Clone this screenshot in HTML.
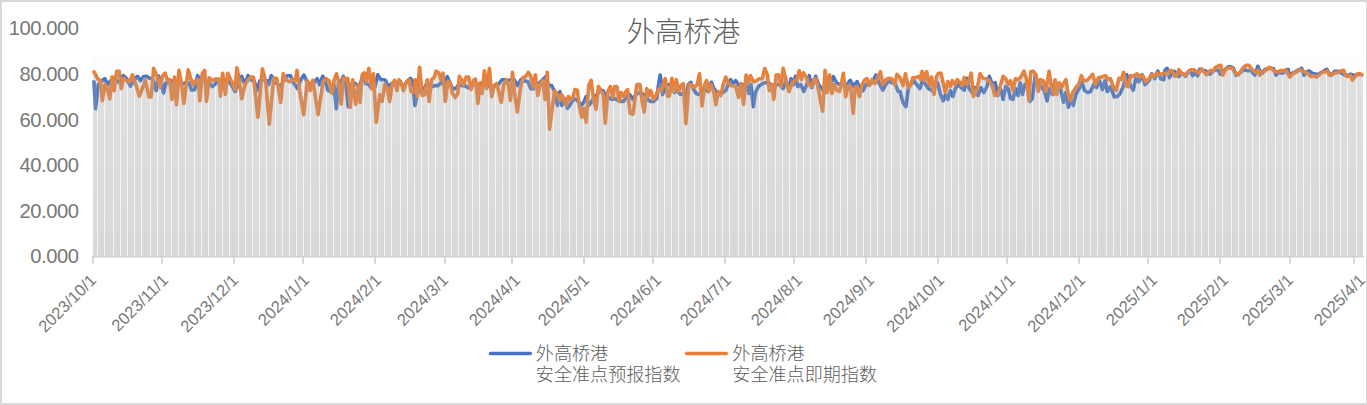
<!DOCTYPE html>
<html lang="zh"><head><meta charset="utf-8"><title>外高桥港</title>
<style>
html,body{margin:0;padding:0;background:#fff;}
body{width:1367px;height:405px;position:relative;overflow:hidden;font-family:"Liberation Sans",sans-serif;}
#frame{position:absolute;left:0;top:0;width:1364px;height:401px;border-style:solid;border-color:#d9d9d9;border-width:2px 1px 2px 2px;}
svg{position:absolute;left:0;top:0;}
.yl{position:absolute;right:1288.5px;width:90px;text-align:right;font-size:20.2px;line-height:20px;color:#787878;letter-spacing:-0.45px;white-space:nowrap;}
.xl{position:absolute;font-size:16.5px;line-height:18px;color:#787878;white-space:nowrap;transform-origin:100% 50%;transform:rotate(-45deg);text-align:right;width:100px;}
</style></head><body>
<div id="frame"></div>

<svg width="1367" height="405" viewBox="0 0 1367 405">
<defs><linearGradient id="gf" x1="0" y1="58" x2="0" y2="256" gradientUnits="userSpaceOnUse"><stop offset="0" stop-color="#a6a6a6" stop-opacity="0.256"/><stop offset="1" stop-color="#a6a6a6" stop-opacity="0.361"/></linearGradient>
<linearGradient id="gg" x1="0" y1="58" x2="0" y2="256" gradientUnits="userSpaceOnUse"><stop offset="0" stop-color="#a6a6a6" stop-opacity="0.1"/><stop offset="1" stop-color="#a6a6a6" stop-opacity="0.1"/></linearGradient></defs>
<rect x="92" y="57" width="1271" height="199.5" fill="#fdfdfd"/>
<polyline points="94,81.7 95.5,108.7 98.3,84.6 100.9,81.7 104.8,78.7 107.8,84.6 110.7,80.7 113.7,79.7 116.7,80.7 119.6,82.7 123.2,75.7 126.5,78.7 130.5,86.2 133.5,80.7 137.4,76.3 140.4,80.7 143.3,76.7 146.3,76.3 149.3,78.3 152.2,78.7 156.2,90.6 158.1,75.7 161.1,80.7 163.5,92.9 166,82.7 169,82.7 173,80.7 176.9,82.7 181.8,84.6 185.8,82.7 188.8,82.7 191.7,90.2 194.7,89.6 197.6,75.7 200.6,80.7 204.6,80.7 208.5,82.7 212.5,86.6 216.4,82.7 220.4,80.7 224.3,82.7 228.3,80.7 231.2,84.6 235.2,91.5 238.1,84.6 241.7,76.3 245,84.6 248,75.7 251,79.7 253.9,80.7 257.5,90.2 259.9,80.7 263.8,79.7 266.8,80.7 268.7,84.6 271.3,75.7 274.7,80.7 277.6,84.6 280.6,86.6 283.6,80.7 287.5,75.7 290.5,75.7 293.4,82.7 297.4,88.6 300.4,80.7 303.9,75.1 306.9,81.7 310.2,84.6 314.2,82.7 317.1,78.7 319.5,84.6 322.7,76.3 325,80.7 328,90.6 331,91.5 333.9,84.6 336.3,108.7 338.5,82.7 340.8,82.7 343.4,76.3 345.8,84.6 348.3,106.7 350.7,84.6 353.7,82.7 356.6,84.6 359.6,86.6 363,74.8 365.9,83.6 368.9,84.6 371.9,88.6 374.8,87.6 377.8,74.8 380.7,79.7 383.7,79.7 385.7,80.7 388.6,87.6 391.6,83.6 394.6,84.6 397.5,82.7 400.5,81.7 403.5,87.6 406.4,82.7 410.4,78.3 412.3,80.7 414.9,105.4 417.3,94.5 420.2,88.6 423.2,90.6 426.2,84.6 429.1,84.6 432.1,86.6 435.1,85.6 438,85.6 441,82.7 443.9,84.6 447.3,76.7 449.9,83.6 452.8,88.6 455.8,88.6 458.8,84.6 461.7,85.6 464.7,85.6 467.6,87.6 470.6,87.6 473.6,84.6 476.5,84.6 479.5,86.6 482.5,84.6 486.4,84.6 490.4,86.6 494.3,86.6 498.3,84.6 502.2,79.7 505.2,79.7 508.1,80.7 511.1,79.7 514.1,79.7 517.4,85.6 521,79.7 523.9,80.7 527.9,81.7 530.8,88.6 533.8,88.6 536.8,84.6 539.7,82.7 542.7,79.7 545.7,76.7 548.6,85.6 551.6,85.6 554.6,91.5 557.5,105.4 559.9,91.5 561.9,105.4 564.4,98.5 567.4,108.3 570.4,104.4 573.3,99.4 576.3,99.4 578.8,102.4 581.2,105.4 583.8,102.4 586.2,96.5 588.7,105.4 591.1,102.4 594.1,97.5 597,94.5 600,90.6 602.9,90.6 605.9,96.5 608.9,97.5 611.8,99.4 614.8,98.5 617.8,100.4 620.7,101.4 623.7,101.4 626.6,96.5 629.6,94.5 633,99.4 635.9,94.5 639.9,92.5 643.8,94.5 647.8,99.4 650.7,101.4 653.7,101.4 656.7,98.5 658.6,84.6 660.2,75.1 662.6,94.5 665.6,84.6 668.5,84.6 671.5,86.6 674.4,92.5 677.4,90.6 680.4,94.5 683.3,93.5 686.3,96.5 688.3,84.6 690.8,82.3 693.2,88.6 696.2,93.5 699.1,94.5 702.1,91.5 705.1,89.6 708,91.5 711.4,82.3 713.9,88.6 716.9,92.5 719.9,93.5 722.8,92.5 725.8,90.6 728.8,82.7 730.7,79.7 732.7,84.6 735.7,80.7 738.2,84.6 740.6,86.6 743.6,84.6 746.5,84.6 748.9,93.5 750.9,84.6 753.4,106.7 755.4,92.5 758.4,86.6 761.3,84.6 764.3,82.7 768.3,82.7 771.2,84.6 774.2,85.6 777.1,84.6 780.1,84.6 783.1,88.6 786,80.7 789,90.6 791,78.7 793.5,84.6 795.5,76.3 797.9,86.6 800.8,84.6 803.8,91.5 806.8,84.6 809.3,75.7 811.7,87.6 815.7,76.3 818.6,84.6 821.6,88.6 824.6,92.5 827.5,84.6 830.5,84.6 833.4,76.7 836.4,82.7 839.4,84.6 842.3,84.6 845.3,86.6 847.3,84.6 850.2,80.3 853.2,86.6 857.1,81.7 860.1,89.6 863.1,90.6 866,84.6 869,84.6 872,82.7 875.9,75.1 878.9,82.7 882.8,90.2 885.8,84.6 888.7,80.7 891.7,82.7 894.7,82.7 898.2,91.5 900,91.5 903,102.4 905.9,106.7 908.3,88.6 910.9,84.6 913.8,80.7 916.8,84.6 919.8,88.6 922.7,79.7 925.7,84.6 928.6,88.6 931.6,90.6 934.6,84.6 937.5,82.7 940.5,94.5 943.1,100.8 945.4,94.5 947.8,99.4 950.4,90.6 952.9,96.5 955.3,88.6 958.3,84.6 961.2,87.6 964.2,90.2 966.8,78.3 969.1,88.6 972.1,92.5 975.1,87.6 978,95.5 981,87.6 983.9,92.5 986.9,86.6 989.3,76.3 992.4,84.6 995.2,82.7 997.8,95.5 1000.7,89.6 1003.1,99.4 1005.7,86.6 1008.2,88.6 1010.6,98.5 1013,99.4 1015.5,88.6 1018.1,95.5 1020.1,82.7 1022.5,94.5 1024.8,84.6 1027.4,84.6 1030,101.4 1032.3,98.5 1035.3,74.8 1038.3,84.6 1041.2,86.6 1044.2,90.6 1047.1,100.8 1049.7,88.6 1052.5,94.5 1055,84.6 1058,84.6 1061,90.6 1063.5,102.4 1065.9,92.5 1068.3,107.3 1070.8,100.4 1073.4,105.4 1075.8,94.5 1078.7,89.6 1081.7,82.7 1084.7,90.6 1087.6,92.5 1090.6,91.5 1093.6,84.6 1096.5,87.6 1099.5,80.7 1102.5,89.6 1105,80.7 1107.4,91.5 1110.4,86.6 1114.3,96.9 1117.3,96.5 1120.2,93.5 1123.2,86.6 1126.7,74.8 1130.1,84.6 1133.1,90.2 1136,78.3 1139,81.7 1142,74.8 1144.9,84.6 1148.9,80.7 1151.8,73.8 1154.8,78.7 1157.8,71.2 1160.7,78.7 1163.7,79.7 1165,70.3 1167,68.3 1169.4,77.7 1171.9,73.2 1174.4,71.3 1176.7,74.2 1178.8,76.7 1181.3,73.2 1183.8,74.2 1185.7,76.2 1188.2,71.8 1190.5,71.8 1192.7,75.7 1195.1,72.2 1197.6,75.7 1199.6,69.3 1202.5,70.3 1205.5,70.8 1208,73.2 1209.9,74.2 1212.4,71.8 1214.9,69.8 1218.3,70.3 1220.3,74.2 1222.3,73.2 1224.3,70.3 1228.2,66.8 1230.7,66.8 1233.1,67.8 1236.1,75.2 1238.6,74.2 1241,71.8 1243.5,69.8 1246,70.3 1247.5,70.8 1250.9,70.3 1254.9,75.2 1257.8,66.3 1260.3,72.2 1262.3,73.2 1264.7,69.8 1267.7,68.8 1270.7,68.3 1273.6,68.8 1276.1,75.2 1278.6,72.2 1282.5,73.2 1285.5,71.3 1288,69.3 1289.4,75.2 1292.4,73.2 1295.4,71.8 1297.3,70.3 1298.8,70.3 1300.1,69.3 1301.6,68.3 1304.1,75.2 1306.6,72.2 1309,70.8 1312,73.2 1315.9,74.2 1318.4,74.2 1320.9,72.7 1323.8,71.3 1326.8,69.3 1329.3,73.7 1331.7,75.2 1334.7,71.3 1338.2,71.3 1341.6,73.2 1344.1,74.7 1347.1,75.7 1350.5,74.2 1354.5,75.7 1357.9,74.2 1361.7,74.7" fill="none" stroke="#4472c4" stroke-width="3.6" stroke-linejoin="round" stroke-linecap="round"/>
<polyline points="94,71.8 97.9,79.1 100.3,80.3 102.4,100.8 104.8,84.6 106.8,86.6 109.8,98.8 112.1,76.7 114.1,90.6 116.7,71.2 119.2,71.2 121.2,88.6 123.6,78.7 126.5,80.3 129.5,81.7 132.5,74.8 135.8,84.6 139.4,96.1 142.3,88.6 145.3,80.3 148.9,96.9 151.2,96.9 153.6,68.4 157.2,76.7 160.1,87.6 162.7,75.7 165.1,73.2 167.6,80.7 169.6,79.7 172,99.4 174.5,77.1 176.5,104.8 178.9,70.4 181.3,82.7 183.8,103.4 188.2,69.8 190.7,78.7 193.1,84.6 195.7,80.7 198.2,79.7 199.8,100.8 202.2,73.8 204.6,70.4 206.5,101.4 209.1,77.7 212.1,80.7 215.4,79.1 219,79.1 220.4,96.1 222.7,73.2 225.3,94.5 227.7,73.2 230.2,78.7 232.6,83.6 235.2,89.6 236.8,67.8 239.1,78.7 241.7,98.8 245,84.6 248,79.7 251,77.1 253.5,77.1 257.9,117.2 262.4,68.8 265.8,82.7 269.3,124.1 273.7,78.3 276.6,78.3 280.8,102.4 283.2,73.8 285.9,79.7 289.5,81.7 292.5,79.7 295.4,80.3 297,70.4 299.4,89.6 303.7,114.6 307.3,80.7 310.2,90.6 312.8,80.3 318.1,114.6 323.1,81.7 326,78.7 329,80.7 332,93.5 334.3,79.7 336.5,73.8 338.9,82.7 341.2,104 343.4,77.7 345.8,79.7 347.8,78.3 350.3,107.3 352.7,79.7 355.7,104.4 358.6,84.6 360,102.4 362.4,74.8 364.3,72.8 366.3,81.7 368.9,68.4 371.5,88.6 373.4,73.8 376.2,122.2 379.8,94.5 382.1,101.4 384.7,84.6 387.1,87.6 389.6,101.4 392.2,84.6 394.6,80.3 396.9,90.6 398.9,79.7 401.5,84.6 403.5,90.6 406.4,81.7 409,79.7 411,91.5 413.3,92.5 415.3,79.7 417.3,96.5 419.6,67.2 422.2,95.5 424.8,94.5 427.2,79.7 429.1,101.4 431.5,79.7 434.1,77.7 436,71.2 438.6,72.8 441,79.7 443,73.2 445.3,101.4 447.9,81.7 450.3,82.7 452.4,93.5 455.2,97.5 457.8,93.5 459.3,76.3 461.7,79.7 463.7,84.6 466.1,77.1 468.6,77.1 471,89.6 473.6,80.3 475.5,79.1 477.9,103.4 480.1,82.7 482.1,93.5 484.4,70.8 486.8,88.6 489.4,68.4 491.7,96.5 494.3,85.6 496.7,83.6 498.7,91.5 501.2,102.4 503.8,84.6 506.2,79.7 508.5,85.6 510.5,100.4 512.5,72.4 515,96.5 517.4,111.9 520.4,88.6 522.9,77.7 525.5,76.7 528.3,72.4 530.8,76.7 533.4,87.6 535.4,74.8 537.8,95.5 540.1,84.6 542.7,80.7 545.1,99.4 547.2,72.4 549.6,129.1 552.6,105.4 554.6,90.6 557.5,94.5 559.9,100.4 561.5,94.5 564.4,99.4 566.4,105.4 568.4,96.5 570.4,99.4 572.9,97.5 574.9,89.6 577.3,90.2 579.2,105.4 581.8,117.2 583.8,108.3 586.2,122.2 588.7,85.6 591.1,80.3 593.5,99.4 596,109.3 598.4,86.6 601,90.6 603.3,94.5 605.3,123.1 607.9,91.5 610.4,86.6 612.8,97.5 614.8,86.6 616.8,86.6 619.1,101.4 621.1,92.5 623.7,96.5 626,91.5 627.6,89.6 630,113.3 633,114.3 636.9,84.6 639.9,84.6 642.2,101.4 644.2,111.9 646.8,88.6 648.8,95.5 650.7,90.6 653.3,99.4 655.7,96.5 658.6,89 661.2,90.6 663.2,84.6 665.2,78.7 667.5,96.1 669.5,96.1 671.9,78.3 673.8,91.5 676.4,79.7 678.4,91.5 681,85.6 683.3,83.6 685.9,123.7 688.9,84.6 691.6,84.6 694.2,87.6 697.2,84.6 699.5,73.8 702.1,106 704.7,84.6 706.6,80.7 709,91.5 711,84.6 713.4,90.6 715.9,104.8 718.3,91.5 720.9,95.5 723.2,84.6 725.8,77.1 728.2,82.7 730.7,85.6 733.1,85.6 735.7,86.6 738.6,97.5 741,83.6 743.6,104.4 746.1,75.1 748.5,82.7 750.5,75.7 753.4,81.7 756.4,80.7 759.4,78.7 762.3,78.7 764.7,68.4 767.3,74.8 769.2,90.6 771.8,84.6 773.8,99.4 776.2,75.1 778.5,74.8 781.1,86.6 783.1,68.4 786,79.7 789,91.5 791.6,84.6 794.3,80.7 796.9,79.7 799.3,70.8 801.4,79.7 803.4,72.8 806.2,76.7 808.7,84.6 811.3,86.6 813.7,79.7 816.1,78.7 818.6,90.6 822.6,111.3 825.1,70.4 827.5,92.5 829.5,74.8 831.9,93.5 834.4,84.6 837,90.6 839.4,91.5 841.3,84.6 843.3,73.2 845.7,96.9 848.3,85.6 850.6,86.6 853.2,113.3 855.2,87.6 857.1,86.6 859.5,96.5 862.1,84.6 865,79.7 867,78.7 869.4,85.6 872,79.7 874.9,83.6 877.9,78.7 880.4,71.8 882.8,84.6 885.8,79.7 888.7,78.3 891.7,78.7 894.7,84.6 897,74.4 900,77.7 903,85.6 905.5,73.8 908.3,87.6 910.9,84.6 912.8,77.7 915.8,77.7 918.8,76.3 920.7,79.7 922.1,71.2 924.7,80.7 926.7,71.8 929.6,85.6 931.6,77.1 934,94.5 936.5,76.7 938.5,73.2 940.9,73.2 943.5,84.6 945.4,92.5 947.8,81.7 950.4,86.6 952.3,80.7 954.9,84.6 957.3,79.7 960.2,82.7 962.2,85.6 964.2,77.7 966.8,84.6 969.1,80.7 971.1,73.2 973.5,96.5 976,91.5 978,84.6 980,73.8 983,78.3 985.9,78.7 988.9,80.7 991.8,84.6 994.8,95.5 997.8,94.5 1000.7,84.6 1003.1,76.3 1005.7,78.7 1008.2,84.6 1010.6,80.7 1013,90.6 1015.5,78.7 1018.1,79.7 1020.9,77.1 1024,71.2 1026.4,78.7 1028.8,100.4 1030.8,71.8 1033.3,71.2 1035.9,74.8 1038.3,91.5 1040.6,79.7 1043.2,80.7 1045.8,91.5 1049.1,71.2 1051.1,84.6 1053.7,94.5 1055,79.7 1057,94.5 1059,82.7 1061.6,87.6 1063.5,83.6 1065.9,79.7 1067.9,92.5 1070.3,100.4 1072.8,92.5 1075.8,87.6 1078.7,84.6 1081.3,75.7 1083.7,80.7 1086.6,80.7 1089.2,78.3 1092.6,74.4 1095.5,84.6 1098.5,77.7 1101.5,77.1 1105.4,75.7 1108.4,79.7 1110.4,78.7 1113.3,86.6 1116.3,90.6 1118.8,78.3 1121.2,79.7 1123.6,72.4 1126.2,85.6 1128.1,86.6 1130.7,75.7 1133.1,76.3 1137,73.8 1140,77.1 1142.9,75.7 1145.9,81.7 1148.9,78.7 1151.8,74.4 1153.8,76.7 1156.8,73.2 1159.7,74.8 1162.7,73.8 1165,73.2 1167.5,74.2 1169.4,71.3 1171.4,70.3 1173.4,73.7 1174.9,76.2 1176.9,75.7 1178.8,69.8 1180.8,72.2 1182.8,74.2 1184.8,75.7 1187.2,73.2 1189.7,70.3 1191.7,69.8 1194.1,69.8 1196.6,71.8 1199.1,73.2 1201.5,68.8 1204,71.8 1206.5,74.7 1208.9,71.8 1210.9,70.3 1213.4,71.3 1215.4,67.3 1217.8,66.3 1220.8,65.3 1222.8,75.2 1224.7,71.3 1226.7,68.3 1229.2,67.8 1232.2,68.3 1234.1,71.3 1236.1,73.7 1238.6,74.7 1241,70.8 1243.5,67.3 1246,65.3 1248.9,65.3 1251.4,68.8 1253.9,71.3 1256.3,72.2 1258.3,70.3 1259.8,75.2 1262.3,71.3 1264.7,71.3 1267.2,68.8 1269.2,67.3 1271.7,68.8 1274.1,70.8 1276.6,72.2 1279.1,71.3 1281,70.3 1283.5,71.3 1285.5,69.8 1288,73.7 1289.9,77.2 1292.4,74.2 1294.4,72.7 1296.8,71.8 1298.8,70.3 1300.1,69.6 1302.1,70.8 1304.6,71.8 1307.1,73.2 1309.5,75.2 1311.5,76.7 1314,75.7 1316.4,77.2 1318.9,75.2 1320.9,73.2 1323.3,72.2 1325.8,71.8 1327.3,70.8 1329.3,75.2 1331.7,74.7 1334.2,73.2 1336.7,72.7 1339.2,71.8 1341.1,70.8 1343.6,70.3 1345.6,75.2 1347.5,76.7 1350,75.2 1352.5,80.1 1355,76.7 1356.9,74.2 1359.4,73.7 1361.7,74.7" fill="none" stroke="#ed7d31" stroke-width="3.6" stroke-linejoin="round" stroke-linecap="round"/>
<path d="M93.4,256.5 L94,71.8 95.5,74.7 97.9,79.1 98.3,79.3 100.3,80.3 100.9,81.7 102.4,80.5 104.8,78.7 106.8,82.7 107.8,84.6 109.8,82 110.7,80.7 112.1,76.7 113.7,79.7 114.1,79.8 116.7,71.2 119.2,71.2 119.6,74.7 121.2,79.6 123.2,75.7 123.6,76.1 126.5,78.7 129.5,81.7 130.5,79.4 132.5,74.8 133.5,77.7 135.8,78.1 137.4,76.3 139.4,79.2 140.4,80.7 142.3,78 143.3,76.7 145.3,76.5 146.3,76.3 148.9,78 149.3,78.3 151.2,78.6 152.2,78.7 153.6,68.4 156.2,74.4 157.2,76.7 158.1,75.7 160.1,79 161.1,80.7 162.7,75.7 163.5,74.9 165.1,73.2 166,76.1 167.6,80.7 169,80 169.6,79.7 172,81.2 173,80.7 174.5,77.1 176.5,82.5 176.9,82.7 178.9,70.4 181.3,82.7 181.8,84.6 183.8,83.6 185.8,82.7 188.2,69.8 188.8,71.9 190.7,78.7 191.7,81.2 193.1,84.6 194.7,82.2 195.7,80.7 197.6,75.7 198.2,76.7 199.8,79.4 200.6,80.7 202.2,73.8 204.6,70.4 206.5,81.7 208.5,82.7 209.1,77.7 212.1,80.7 212.5,80.5 215.4,79.1 216.4,79.1 219,79.1 220.4,80.7 222.7,73.2 224.3,82.7 225.3,82.2 227.7,73.2 228.3,74.4 230.2,78.7 231.2,80.8 232.6,83.6 235.2,89.6 236.8,67.8 238.1,74.2 239.1,78.7 241.7,76.3 245,84.6 248,75.7 251,77.1 253.5,77.1 253.9,80.7 257.5,90.2 257.9,88.6 259.9,80.7 262.4,68.8 263.8,74.5 265.8,80.3 266.8,80.7 268.7,84.6 269.3,82.6 271.3,75.7 273.7,78.3 274.7,78.3 276.6,78.3 277.6,84 280.6,86.6 280.8,86.2 283.2,73.8 283.6,74.6 285.9,77.7 287.5,75.7 289.5,75.7 290.5,75.7 292.5,79.7 293.4,79.9 295.4,80.3 297,70.4 297.4,73.6 299.4,83.3 300.4,80.7 303.7,75.5 303.9,75.1 306.9,81.7 307.3,80.7 310.2,84.6 312.8,80.3 314.2,82.7 317.1,78.7 318.1,81.2 319.5,84.6 322.7,76.3 323.1,77.1 325,79.7 326,78.7 328,80 329,80.7 331,89.2 332,89.2 333.9,82 334.3,79.7 336.3,74.3 336.5,73.8 338.5,81.2 338.9,82.7 340.8,82.7 341.2,81.7 343.4,76.3 345.8,79.7 347.8,78.3 348.3,85 350.3,88.3 350.7,84.6 352.7,79.7 353.7,82.7 355.7,84 356.6,84.6 358.6,84.6 359.6,86.6 360,85.2 362.4,74.8 363,74.2 364.3,72.8 365.9,79.9 366.3,81.7 368.9,68.4 371.5,88.1 371.9,85.6 373.4,73.8 374.8,87.6 376.2,81.6 377.8,74.8 379.8,78 380.7,79.7 382.1,79.7 383.7,79.7 384.7,80.2 385.7,80.7 387.1,83.9 388.6,87.6 389.6,86.3 391.6,83.6 392.2,83.8 394.6,80.3 396.9,83 397.5,82.7 398.9,79.7 400.5,81.7 401.5,83.6 403.5,87.6 406.4,81.7 409,79.7 410.4,78.3 411,79 412.3,80.7 413.3,90.2 414.9,82.3 415.3,79.7 417.3,94.5 419.6,67.2 420.2,73.8 422.2,89.9 423.2,90.6 424.8,87.4 426.2,84.6 427.2,79.7 429.1,84.6 431.5,79.7 432.1,79.2 434.1,77.7 435.1,74.5 436,71.2 438,72.4 438.6,72.8 441,79.7 443,73.2 443.9,84.6 445.3,81.4 447.3,76.7 447.9,78.3 449.9,82.5 450.3,82.7 452.4,87.9 452.8,88.6 455.2,88.6 455.8,88.6 457.8,85.9 458.8,82.8 459.3,76.3 461.7,79.7 463.7,84.6 464.7,81.5 466.1,77.1 467.6,77.1 468.6,77.1 470.6,87.5 471,87.2 473.6,80.3 475.5,79.1 476.5,84.6 477.9,85.5 479.5,86.6 480.1,82.7 482.1,84.9 482.5,84.6 484.4,70.8 486.4,84.6 486.8,84.8 489.4,68.4 490.4,80.1 491.7,86.6 494.3,85.6 496.7,83.6 498.3,84.6 498.7,84.1 501.2,80.9 502.2,79.7 503.8,79.7 505.2,79.7 506.2,79.7 508.1,80.7 508.5,80.5 510.5,79.9 511.1,79.7 512.5,72.4 514.1,79.7 515,81.4 517.4,85.6 520.4,80.7 521,79.7 522.9,77.7 523.9,77.3 525.5,76.7 527.9,73 528.3,72.4 530.8,76.7 533.4,87.6 533.8,85 535.4,74.8 536.8,84.6 537.8,84 539.7,82.7 540.1,82.3 542.7,79.7 545.1,77.3 545.7,76.7 547.2,72.4 548.6,85.6 549.6,85.6 551.6,85.6 552.6,87.6 554.6,90.6 557.5,94.5 559.9,91.5 561.5,94.5 561.9,95.2 564.4,98.5 566.4,105 567.4,100.9 568.4,96.5 570.4,99.4 572.9,97.5 573.3,95.9 574.9,89.6 576.3,89.9 577.3,90.2 578.8,102.3 579.2,102.9 581.2,105.4 581.8,104.7 583.8,102.4 586.2,96.5 588.7,85.6 591.1,80.3 593.5,98.5 594.1,97.5 596,95.5 597,94.5 598.4,86.6 600,89 601,90.6 602.9,90.6 603.3,91.3 605.3,95.3 605.9,96.5 607.9,91.5 608.9,89.6 610.4,86.6 611.8,92.9 612.8,97.5 614.8,86.6 616.8,86.6 617.8,92.8 619.1,100.9 620.7,94.3 621.1,92.5 623.7,96.5 626,91.5 626.6,90.8 627.6,89.6 629.6,94.5 630,95.1 633,99.4 635.9,92 636.9,84.6 639.9,84.6 642.2,93.7 643.8,94.5 644.2,95 646.8,88.6 647.8,92 648.8,95.5 650.7,90.6 653.3,99.4 653.7,98.9 655.7,96.5 656.7,94 658.6,84.6 660.2,75.1 661.2,83.2 662.6,86.4 663.2,84.6 665.2,78.7 665.6,81.6 667.5,84.6 668.5,84.6 669.5,85.3 671.5,81.3 671.9,78.3 673.8,91.3 674.4,88.8 676.4,79.7 677.4,85.6 678.4,91.5 680.4,87 681,85.6 683.3,83.6 685.9,96.1 686.3,96.5 688.3,84.6 688.9,84.1 690.8,82.3 691.6,84.4 693.2,86.5 694.2,87.6 696.2,85.6 697.2,84.6 699.1,75.6 699.5,73.8 702.1,91.5 704.7,84.6 705.1,83.8 706.6,80.7 708,87 709,88.8 711,83.3 711.4,82.3 713.4,87.1 713.9,88.6 715.9,91.2 716.9,92.5 718.3,91.5 719.9,93.5 720.9,93.2 722.8,86.4 723.2,84.6 725.8,77.1 728.2,82.7 728.8,82.7 730.7,79.7 732.7,84.6 733.1,84.1 735.7,80.7 738.2,84.6 738.6,85 740.6,85.9 741,83.6 743.6,84.6 746.1,75.1 746.5,76.4 748.5,82.7 748.9,81.3 750.5,75.7 750.9,76.5 753.4,81.7 755.4,81 756.4,80.7 758.4,79.4 759.4,78.7 761.3,78.7 762.3,78.7 764.3,70.1 764.7,68.4 767.3,74.8 768.3,82.7 769.2,83.3 771.2,84.6 771.8,84.6 773.8,85.5 774.2,85.6 776.2,75.1 777.1,75 778.5,74.8 780.1,82 781.1,85.9 783.1,68.4 786,79.7 789,90.6 791,78.7 791.6,80.1 793.5,81.8 794.3,80.7 795.5,76.3 796.9,79.7 797.9,76 799.3,70.8 800.8,77.3 801.4,79.7 803.4,72.8 803.8,73.3 806.2,76.7 806.8,78.5 808.7,77.8 809.3,75.7 811.3,85.6 811.7,85.4 813.7,79.7 815.7,76.3 816.1,77.4 818.6,84.6 821.6,88.6 822.6,89.9 824.6,79.8 825.1,70.4 827.5,84.6 829.5,74.8 830.5,82.6 831.9,80.9 833.4,76.7 834.4,78.7 836.4,82.7 837,83 839.4,84.6 841.3,84.6 842.3,78.9 843.3,73.2 845.3,86.6 845.7,86.2 847.3,84.6 848.3,83.2 850.2,80.3 850.6,81.1 853.2,86.6 855.2,84.1 857.1,81.7 859.5,88 860.1,89.6 862.1,84.6 863.1,83 865,79.7 866,79.2 867,78.7 869,84.5 869.4,84.4 872,79.7 874.9,77 875.9,75.1 877.9,78.7 878.9,76 880.4,71.8 882.8,84.6 885.8,79.7 888.7,78.3 891.7,78.7 894.7,82.7 897,74.4 898.2,75.7 900,77.7 903,85.6 905.5,73.8 905.9,75.7 908.3,87.6 910.9,84.6 912.8,77.7 913.8,77.7 915.8,77.7 916.8,77.3 918.8,76.3 919.8,78 920.7,79.7 922.1,71.2 922.7,73.4 924.7,80.7 925.7,76.2 926.7,71.8 928.6,81 929.6,85.6 931.6,77.1 934,85.8 934.6,84.6 936.5,76.7 937.5,74.9 938.5,73.2 940.5,73.2 940.9,73.2 943.1,82.9 943.5,84.6 945.4,92.5 947.8,81.7 950.4,86.6 952.3,80.7 952.9,81.6 954.9,84.6 955.3,83.8 957.3,79.7 958.3,80.7 960.2,82.7 961.2,84.1 962.2,85.6 964.2,77.7 966.8,78.3 969.1,80.7 971.1,73.2 972.1,82.9 973.5,90.2 975.1,87.6 976,90.2 978,84.6 980,73.8 981,75.3 983,78.3 983.9,78.4 985.9,78.7 986.9,79.4 988.9,78 989.3,76.3 991.8,83.1 992.4,84.6 994.8,82.9 995.2,82.7 997.8,94.5 1000.7,84.6 1003.1,76.3 1005.7,78.7 1008.2,84.6 1010.6,80.7 1013,90.6 1015.5,78.7 1018.1,79.7 1020.1,77.9 1020.9,77.1 1022.5,74.2 1024,71.2 1024.8,73.7 1026.4,78.7 1027.4,84.6 1028.8,93.7 1030,83.2 1030.8,71.8 1032.3,71.4 1033.3,71.2 1035.3,73.9 1035.9,74.8 1038.3,84.6 1040.6,79.7 1041.2,79.9 1043.2,80.7 1044.2,84.9 1045.8,91.5 1047.1,83.2 1049.1,71.2 1049.7,75.2 1051.1,84.6 1052.5,89.9 1053.7,89.9 1055,79.7 1057,84.6 1058,84.6 1059,82.7 1061,86.5 1061.6,87.6 1063.5,83.6 1065.9,79.7 1067.9,92.5 1068.3,93.8 1070.3,100.4 1070.8,98.6 1072.8,92.5 1073.4,91.5 1075.8,87.6 1078.7,84.6 1081.3,75.7 1081.7,76.6 1083.7,80.7 1084.7,80.7 1086.6,80.7 1087.6,79.8 1089.2,78.3 1090.6,76.7 1092.6,74.4 1093.6,77.8 1095.5,84.6 1096.5,82.3 1098.5,77.7 1099.5,77.5 1101.5,77.1 1102.5,76.8 1105,75.9 1105.4,75.7 1107.4,78.4 1108.4,79.7 1110.4,78.7 1113.3,86.6 1114.3,87.9 1116.3,90.6 1117.3,85.8 1118.8,78.3 1120.2,79.1 1121.2,79.7 1123.2,73.6 1123.6,72.4 1126.2,76.7 1126.7,74.8 1128.1,78.8 1130.1,78.2 1130.7,75.7 1133.1,76.3 1136,74.4 1137,73.8 1139,76 1140,77.1 1142,74.8 1142.9,75.7 1144.9,79.7 1145.9,81.7 1148.9,78.7 1151.8,73.8 1153.8,76.7 1154.8,75.5 1156.8,73.2 1157.8,71.2 1159.7,74.8 1160.7,74.4 1162.7,73.8 1163.7,73.5 1165,70.3 1167,68.3 1167.5,70.2 1169.4,71.3 1171.4,70.3 1171.9,71.1 1173.4,72 1174.4,71.3 1174.9,71.9 1176.7,74.2 1176.9,74.4 1178.8,69.8 1180.8,72.2 1181.3,72.7 1182.8,73.8 1183.8,74.2 1184.8,75.2 1185.7,74.7 1187.2,73.2 1188.2,71.8 1189.7,70.3 1190.5,70.1 1191.7,69.8 1192.7,69.8 1194.1,69.8 1195.1,70.6 1196.6,71.8 1197.6,72.3 1199.1,70.9 1199.6,69.3 1201.5,68.8 1202.5,70 1204,70.5 1205.5,70.8 1206.5,71.8 1208,72.9 1208.9,71.8 1209.9,71 1210.9,70.3 1212.4,70.9 1213.4,71 1214.9,68.3 1215.4,67.3 1217.8,66.3 1218.3,66.2 1220.3,65.5 1220.8,65.3 1222.3,72.7 1222.8,72.5 1224.3,70.3 1224.7,69.8 1226.7,68.1 1228.2,66.8 1229.2,66.8 1230.7,66.8 1232.2,67.4 1233.1,67.8 1234.1,70.3 1236.1,73.7 1238.6,74.2 1241,70.8 1243.5,67.3 1246,65.3 1247.5,65.3 1248.9,65.3 1250.9,68.1 1251.4,68.8 1253.9,71.3 1254.9,71.7 1256.3,70.8 1257.8,66.3 1258.3,67.5 1259.8,71.1 1260.3,72.2 1262.3,71.3 1264.7,69.8 1267.2,68.8 1267.7,68.4 1269.2,67.3 1270.7,68.2 1271.7,68.5 1273.6,68.8 1274.1,70.1 1276.1,71.9 1276.6,72.2 1278.6,71.5 1279.1,71.3 1281,70.3 1282.5,70.9 1283.5,71.3 1285.5,69.8 1288,69.3 1289.4,75.2 1289.9,74.9 1292.4,73.2 1294.4,72.2 1295.4,71.8 1296.8,70.6 1297.3,70.3 1298.8,70.3 1300.1,69.3 1301.6,68.3 1302.1,69.7 1304.1,71.6 1304.6,71.8 1306.6,72.2 1307.1,71.9 1309,70.8 1309.5,71.2 1311.5,72.8 1312,73.2 1314,73.7 1315.9,74.2 1316.4,74.2 1318.4,74.2 1318.9,73.9 1320.9,72.7 1323.3,71.5 1323.8,71.3 1325.8,69.9 1326.8,69.3 1327.3,70.2 1329.3,73.7 1331.7,74.7 1334.2,71.9 1334.7,71.3 1336.7,71.3 1338.2,71.3 1339.2,71.8 1341.1,70.8 1341.6,70.7 1343.6,70.3 1344.1,71.5 1345.6,75.2 1347.1,75.7 1347.5,75.5 1350,74.4 1350.5,74.2 1352.5,75 1354.5,75.7 1355,75.5 1356.9,74.2 1357.9,74 1359.4,73.7 1361.7,74.7 L1363.4,256.5 Z" fill="url(#gg)"/>
<path d="M94,71.8V256.5M96,75.5V256.5M99,79.6V256.5M101,81.6V256.5M103,80.1V256.5M106,81.1V256.5M108,84.3V256.5M110,81.7V256.5M112,77.9V256.5M115,80.1V256.5M117,71.2V256.5M119,71.2V256.5M122,78V256.5M124,76.5V256.5M126,78.2V256.5M129,81.4V256.5M131,78.2V256.5M133,76.3V256.5M136,77.9V256.5M138,77.2V256.5M140,80.1V256.5M143,77.2V256.5M145,76.5V256.5M147,76.8V256.5M149,78.1V256.5M152,78.7V256.5M154,69.4V256.5M156,74V256.5M159,77.2V256.5M161,80.5V256.5M163,75.4V256.5M166,75.9V256.5M168,80.5V256.5M170,82.2V256.5M173,80.7V256.5M175,81.7V256.5M177,82.7V256.5M180,76.2V256.5M182,84.5V256.5M184,83.5V256.5M187,78.8V256.5M189,72.7V256.5M191,79.4V256.5M193,84.4V256.5M196,80.5V256.5M198,76.3V256.5M200,79.7V256.5M203,72.6V256.5M205,77.4V256.5M207,81.9V256.5M210,78.6V256.5M212,80.6V256.5M214,79.8V256.5M217,79.1V256.5M219,79.4V256.5M221,81V256.5M224,82.5V256.5M226,81.8V256.5M228,73.9V256.5M231,80.3V256.5M233,84.6V256.5M235,89.2V256.5M237,69V256.5M240,80.3V256.5M242,77.1V256.5M244,82V256.5M247,78.8V256.5M249,77.1V256.5M251,77.1V256.5M254,80.8V256.5M256,86.2V256.5M258,88.1V256.5M261,80.4V256.5M263,71.2V256.5M265,79.4V256.5M268,83.1V256.5M270,80.3V256.5M272,76.7V256.5M274,78.3V256.5M277,80.3V256.5M279,85.5V256.5M281,85.8V256.5M284,75.5V256.5M286,77.6V256.5M288,75.7V256.5M291,77V256.5M293,79.8V256.5M295,80.2V256.5M298,78.5V256.5M300,81.6V256.5M302,78.1V256.5M305,77.6V256.5M307,81.8V256.5M309,83.5V256.5M312,83.5V256.5M314,82.7V256.5M316,80.2V256.5M318,80.9V256.5M321,80.7V256.5M323,76.9V256.5M325,79.7V256.5M328,80V256.5M330,85.1V256.5M332,89.1V256.5M335,77.8V256.5M337,75.7V256.5M339,82.7V256.5M342,79.8V256.5M344,78.2V256.5M346,79.5V256.5M349,92.4V256.5M351,84.4V256.5M353,82.3V256.5M356,84.2V256.5M358,85.5V256.5M360,85.2V256.5M362,78.1V256.5M365,75.7V256.5M367,78.2V256.5M369,69.3V256.5M372,84.5V256.5M374,83.7V256.5M376,82.4V256.5M379,76.8V256.5M381,79.7V256.5M383,79.7V256.5M386,81.4V256.5M388,86.1V256.5M390,85.8V256.5M393,83.2V256.5M395,82.2V256.5M397,83V256.5M399,79.9V256.5M402,84.7V256.5M404,86.7V256.5M406,82.9V256.5M409,79.8V256.5M411,79.1V256.5M413,87V256.5M416,85.6V256.5M418,87.6V256.5M420,71.1V256.5M423,90.4V256.5M425,87V256.5M427,80.7V256.5M430,85.2V256.5M432,79.3V256.5M434,77.8V256.5M437,71.8V256.5M439,73.9V256.5M441,79.6V256.5M443,73.7V256.5M446,79.8V256.5M448,78.6V256.5M450,82.5V256.5M453,88.6V256.5M455,88.6V256.5M457,87V256.5M460,77.3V256.5M462,80.4V256.5M464,83.7V256.5M467,77.1V256.5M469,79.1V256.5M471,87.2V256.5M474,80V256.5M476,83.8V256.5M478,85.6V256.5M481,85.6V256.5M483,84.5V256.5M485,75.1V256.5M487,84.9V256.5M490,75.9V256.5M492,86.6V256.5M494,86.6V256.5M497,84.9V256.5M499,83.7V256.5M501,81.2V256.5M504,79.7V256.5M506,80V256.5M508,80.6V256.5M511,79.7V256.5M513,77.3V256.5M515,81.3V256.5M518,84.6V256.5M520,81.3V256.5M522,80V256.5M524,77.3V256.5M527,74.4V256.5M529,73.6V256.5M531,77.4V256.5M534,83.8V256.5M536,80.1V256.5M538,83.8V256.5M541,81.4V256.5M543,79.4V256.5M545,77.4V256.5M548,83.7V256.5M550,85.6V256.5M552,86.4V256.5M555,91.2V256.5M557,93.8V256.5M559,96.7V256.5M562,95.4V256.5M564,98.7V256.5M566,103.7V256.5M568,98.2V256.5M571,98.9V256.5M573,97.1V256.5M575,89.6V256.5M578,95.8V256.5M580,103.8V256.5M582,104.5V256.5M585,99.4V256.5M587,99.4V256.5M589,85V256.5M592,87.6V256.5M594,97.6V256.5M596,95.5V256.5M599,87.5V256.5M601,90.6V256.5M603,90.7V256.5M606,96.5V256.5M608,91.3V256.5M610,87.5V256.5M612,93.7V256.5M615,86.6V256.5M617,88.1V256.5M619,100.6V256.5M622,93.9V256.5M624,95.8V256.5M626,91.6V256.5M629,94.9V256.5M631,96.6V256.5M633,99.4V256.5M636,91.5V256.5M638,84.6V256.5M640,85.5V256.5M643,94.1V256.5M645,96V256.5M647,89.3V256.5M649,94.9V256.5M652,94.9V256.5M654,98.6V256.5M656,95.7V256.5M659,82.5V256.5M661,81.5V256.5M663,85.2V256.5M666,84.6V256.5M668,84.6V256.5M670,85.6V256.5M673,85.9V256.5M675,86.2V256.5M677,83.2V256.5M680,87.8V256.5M682,84.7V256.5M684,94.1V256.5M687,92.2V256.5M689,83.9V256.5M691,82.7V256.5M693,86.2V256.5M696,85.8V256.5M698,80.8V256.5M700,79.7V256.5M703,90.9V256.5M705,83.9V256.5M707,82.3V256.5M710,86.1V256.5M712,83.8V256.5M714,88.7V256.5M717,92.6V256.5M719,92.6V256.5M721,93.1V256.5M724,82.4V256.5M726,77.6V256.5M728,82.3V256.5M731,80.4V256.5M733,84.2V256.5M735,81.6V256.5M737,82.7V256.5M740,86.1V256.5M742,85.7V256.5M744,84.6V256.5M747,77.9V256.5M749,80.9V256.5M751,76.8V256.5M754,81.5V256.5M756,80.8V256.5M758,79.6V256.5M761,78.7V256.5M763,75.8V256.5M765,69.2V256.5M768,80.6V256.5M770,83.8V256.5M772,84.9V256.5M774,85.6V256.5M777,75V256.5M779,76.9V256.5M781,85.8V256.5M784,72V256.5M786,79.6V256.5M788,87.2V256.5M791,78.8V256.5M793,82.6V256.5M795,78.5V256.5M798,75.6V256.5M800,73.8V256.5M802,77.7V256.5M805,75V256.5M807,79.2V256.5M809,76.9V256.5M812,84.6V256.5M814,79.6V256.5M816,77.3V256.5M818,82.9V256.5M821,87.8V256.5M823,90.5V256.5M825,72.7V256.5M828,84.6V256.5M830,78.8V256.5M832,80.6V256.5M835,79.9V256.5M837,83.1V256.5M839,84.4V256.5M842,80.8V256.5M844,80V256.5M846,85.9V256.5M849,82.1V256.5M851,81.9V256.5M853,86.2V256.5M855,84.3V256.5M858,84V256.5M860,89.3V256.5M862,85V256.5M865,79.8V256.5M867,78.7V256.5M869,84.5V256.5M872,79.8V256.5M874,78.8V256.5M876,75.4V256.5M879,75.7V256.5M881,74.8V256.5M883,84.3V256.5M886,79.6V256.5M888,78.7V256.5M890,78.5V256.5M893,81.3V256.5M895,83.2V256.5M897,74.5V256.5M899,76.6V256.5M902,83V256.5M904,80.8V256.5M906,76.1V256.5M909,86.8V256.5M911,84.1V256.5M913,77.7V256.5M916,77.6V256.5M918,76.7V256.5M920,78.4V256.5M923,74.4V256.5M925,79.3V256.5M927,73.4V256.5M930,84V256.5M932,80V256.5M934,85.8V256.5M937,75.9V256.5M939,73.2V256.5M941,73.7V256.5M943,82.6V256.5M946,89.9V256.5M948,82.1V256.5M950,85.9V256.5M953,81.7V256.5M955,84.4V256.5M957,80.3V256.5M960,82.4V256.5M962,85.3V256.5M964,78.5V256.5M967,79.3V256.5M969,80.9V256.5M971,73.6V256.5M974,89.3V256.5M976,90.1V256.5M978,84.7V256.5M980,73.8V256.5M983,78.3V256.5M985,78.6V256.5M987,79.4V256.5M990,78.2V256.5M992,83.5V256.5M994,83.5V256.5M997,91.6V256.5M999,90.4V256.5M1001,83.7V256.5M1004,77.2V256.5M1006,79.5V256.5M1008,84.1V256.5M1011,82.3V256.5M1013,90.4V256.5M1015,81.2V256.5M1018,79.6V256.5M1020,77.9V256.5M1022,75V256.5M1024,71.3V256.5M1027,84.1V256.5M1029,95.1V256.5M1031,71.7V256.5M1034,72.1V256.5M1036,75.5V256.5M1038,83.8V256.5M1041,79.8V256.5M1043,80.6V256.5M1045,88.3V256.5M1048,78V256.5M1050,77.2V256.5M1052,88.1V256.5M1055,80.2V256.5M1057,84.6V256.5M1059,82.7V256.5M1062,86.7V256.5M1064,82.9V256.5M1066,80.3V256.5M1068,92.9V256.5M1071,98.1V256.5M1073,92.2V256.5M1075,88.9V256.5M1078,85.4V256.5M1080,80.3V256.5M1082,77.2V256.5M1085,80.7V256.5M1087,80.4V256.5M1089,78.5V256.5M1092,75V256.5M1094,79.3V256.5M1096,83.5V256.5M1099,77.6V256.5M1101,77.2V256.5M1103,76.6V256.5M1105,75.9V256.5M1108,79.2V256.5M1110,78.9V256.5M1112,83.1V256.5M1115,88.9V256.5M1117,87.1V256.5M1119,78.4V256.5M1122,77.3V256.5M1124,74.5V256.5M1126,77.2V256.5M1129,81.4V256.5M1131,75.8V256.5M1133,76.3V256.5M1136,74.4V256.5M1138,74.9V256.5M1140,77.1V256.5M1143,75.9V256.5M1145,79.9V256.5M1147,80.6V256.5M1149,78.5V256.5M1152,74V256.5M1154,76.5V256.5M1156,74.1V256.5M1159,74.4V256.5M1161,74.3V256.5M1163,73.7V256.5M1166,69.3V256.5M1168,72.2V256.5M1170,71V256.5M1173,72.4V256.5M1175,72.1V256.5M1177,74.6V256.5M1180,71.2V256.5M1182,73.4V256.5M1184,74.5V256.5M1187,73.5V256.5M1189,71.1V256.5M1191,69.9V256.5M1193,69.8V256.5M1196,71.3V256.5M1198,72.6V256.5M1200,69.4V256.5M1203,70.3V256.5M1205,70.7V256.5M1207,72.3V256.5M1210,71V256.5M1212,70.7V256.5M1214,70V256.5M1217,66.7V256.5M1219,65.9V256.5M1221,66.3V256.5M1224,70.7V256.5M1226,68.7V256.5M1228,67V256.5M1230,66.8V256.5M1233,67.7V256.5M1235,72.3V256.5M1237,74.1V256.5M1240,72.4V256.5M1242,69.4V256.5M1244,66.9V256.5M1247,65.3V256.5M1249,65.4V256.5M1251,68.2V256.5M1254,71.3V256.5M1256,71.8V256.5M1258,66.7V256.5M1261,72.6V256.5M1263,71.3V256.5M1265,69.7V256.5M1268,68.2V256.5M1270,67.8V256.5M1272,68.5V256.5M1274,69.7V256.5M1277,72.1V256.5M1279,71.3V256.5M1281,70.3V256.5M1284,70.9V256.5M1286,70.6V256.5M1288,69.5V256.5M1291,74.2V256.5M1293,72.9V256.5M1295,71.9V256.5M1298,70.3V256.5M1300,69.4V256.5M1302,69.3V256.5M1305,72V256.5M1307,72V256.5M1309,70.8V256.5M1312,73.2V256.5M1314,73.7V256.5M1316,74.2V256.5M1318,74.2V256.5M1321,72.7V256.5M1323,71.7V256.5M1325,70.5V256.5M1328,71.4V256.5M1330,74.2V256.5M1332,74.6V256.5M1335,71.3V256.5M1337,71.3V256.5M1339,71.7V256.5M1342,70.6V256.5M1344,71.3V256.5M1346,75.4V256.5M1349,74.9V256.5M1351,74.4V256.5M1353,75.2V256.5M1355,75.5V256.5M1358,74V256.5M1360,74V256.5M1362,74.7V256.5" stroke="url(#gf)" stroke-width="2" fill="none" shape-rendering="crispEdges"/>
<path d="M93,256.8H1363.7" stroke="#d0d0d0" stroke-width="1.6" fill="none"/>
<path d="M93,256V263.8M162,256V263.8M234,256V263.8M303,256V263.8M375,256V263.8M445,256V263.8M512,256V263.8M584,256V263.8M653,256V263.8M725,256V263.8M794,256V263.8M866,256V263.8M938,256V263.8M1007,256V263.8M1079,256V263.8M1148,256V263.8M1220,256V263.8M1290,256V263.8M1354,256V263.8" stroke="#d3d3d3" stroke-width="1.8" fill="none"/>
<path d="M490.5,353.6H530.3" stroke="#4472c4" stroke-width="3.5" stroke-linecap="round"/>
<path d="M686.5,353.6H726.3" stroke="#ed7d31" stroke-width="3.5" stroke-linecap="round"/>
<text x="626.8" y="41.8" font-size="28.3" fill="#606060" font-family="'Liberation Sans','Noto Sans CJK SC',sans-serif" font-weight="300">外高桥港</text>
<text x="535.8" y="360" font-size="18.1" fill="#5c5c5c" font-family="'Liberation Sans','Noto Sans CJK SC',sans-serif" font-weight="300">外高桥港</text>
<text x="535.8" y="381" font-size="18.1" fill="#5c5c5c" font-family="'Liberation Sans','Noto Sans CJK SC',sans-serif" font-weight="300">安全准点预报指数</text>
<text x="732.3" y="360" font-size="18.1" fill="#5c5c5c" font-family="'Liberation Sans','Noto Sans CJK SC',sans-serif" font-weight="300">外高桥港</text>
<text x="732.3" y="381" font-size="18.1" fill="#5c5c5c" font-family="'Liberation Sans','Noto Sans CJK SC',sans-serif" font-weight="300">安全准点即期指数</text>
</svg>
<div class="yl" style="top:18px">100.000</div>
<div class="yl" style="top:64px">80.000</div>
<div class="yl" style="top:109.5px">60.000</div>
<div class="yl" style="top:155px">40.000</div>
<div class="yl" style="top:200.5px">20.000</div>
<div class="yl" style="top:246px">0.000</div>
<div class="xl" style="left:-6.7px;top:267.5px">2023/10/1</div>
<div class="xl" style="left:65.1px;top:267.5px">2023/11/1</div>
<div class="xl" style="left:134.5px;top:267.5px">2023/12/1</div>
<div class="xl" style="left:206.3px;top:267.5px">2024/1/1</div>
<div class="xl" style="left:278px;top:267.5px">2024/2/1</div>
<div class="xl" style="left:345.1px;top:267.5px">2024/3/1</div>
<div class="xl" style="left:416.9px;top:267.5px">2024/4/1</div>
<div class="xl" style="left:486.3px;top:267.5px">2024/5/1</div>
<div class="xl" style="left:558.1px;top:267.5px">2024/6/1</div>
<div class="xl" style="left:627.5px;top:267.5px">2024/7/1</div>
<div class="xl" style="left:699.3px;top:267.5px">2024/8/1</div>
<div class="xl" style="left:771.1px;top:267.5px">2024/9/1</div>
<div class="xl" style="left:840.5px;top:267.5px">2024/10/1</div>
<div class="xl" style="left:912.3px;top:267.5px">2024/11/1</div>
<div class="xl" style="left:981.7px;top:267.5px">2024/12/1</div>
<div class="xl" style="left:1053.5px;top:267.5px">2025/1/1</div>
<div class="xl" style="left:1125.2px;top:267.5px">2025/2/1</div>
<div class="xl" style="left:1190px;top:267.5px">2025/3/1</div>
<div class="xl" style="left:1261.8px;top:267.5px">2025/4/1</div>
</body></html>
